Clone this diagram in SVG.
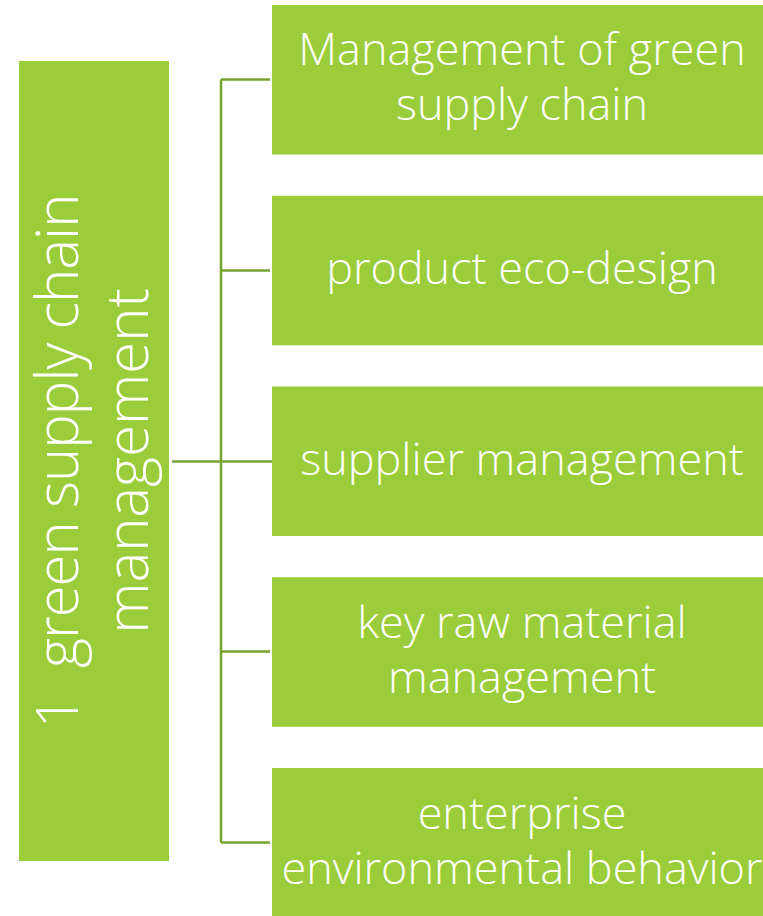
<svg xmlns="http://www.w3.org/2000/svg" width="763" height="916" viewBox="0 0 763 916">
<style>
.box{fill:#9BCD3A;}
.t{fill:#FFFFFF;font-family:"Open Sans","Liberation Sans",sans-serif;font-weight:300;font-size:45px;text-anchor:middle;}
.v{fill:#FFFFFF;font-family:"Open Sans","Liberation Sans",sans-serif;font-weight:300;font-size:58px;text-anchor:middle;white-space:pre;}
.c{stroke:#78A22F;stroke-width:2.5;fill:none;}
</style>
<rect width="763" height="916" fill="#FFFFFF"/>
<g id="connectors">
<path class="c" d="M172 461.5H272"/>
<path class="c" d="M221 79.5V842.5"/>
<path class="c" d="M221 79.5H270"/>
<path class="c" d="M221 270.5H270"/>
<path class="c" d="M221 651.5H270"/>
<path class="c" d="M221 842.5H270"/>
</g>
<g id="root">
<rect class="box" x="19" y="61" width="150" height="800"/>
<text class="v" xml:space="preserve" transform="translate(78,461) rotate(-90)" textLength="535" lengthAdjust="spacing">1  green supply chain</text>
<text class="v" transform="translate(148,461) rotate(-90)">management</text>
</g>
<g id="n1">
<rect class="box" x="272" y="5" width="500" height="149.5"/>
<text class="t" x="522" y="65">Management of green</text>
<text class="t" x="522" y="120">supply chain</text>
</g>
<g id="n2">
<rect class="box" x="272" y="195.75" width="500" height="149.5"/>
<text class="t" x="522" y="284">product eco-design</text>
</g>
<g id="n3">
<rect class="box" x="272" y="386.5" width="500" height="149.5"/>
<text class="t" x="522" y="475">supplier management</text>
</g>
<g id="n4">
<rect class="box" x="272" y="577.25" width="500" height="149.5"/>
<text class="t" x="522" y="638">key raw material</text>
<text class="t" x="522" y="693">management</text>
</g>
<g id="n5">
<rect class="box" x="272" y="768" width="500" height="149.5"/>
<text class="t" x="522" y="829">enterprise</text>
<text class="t" x="522" y="884">environmental behavior</text>
</g>
</svg>
